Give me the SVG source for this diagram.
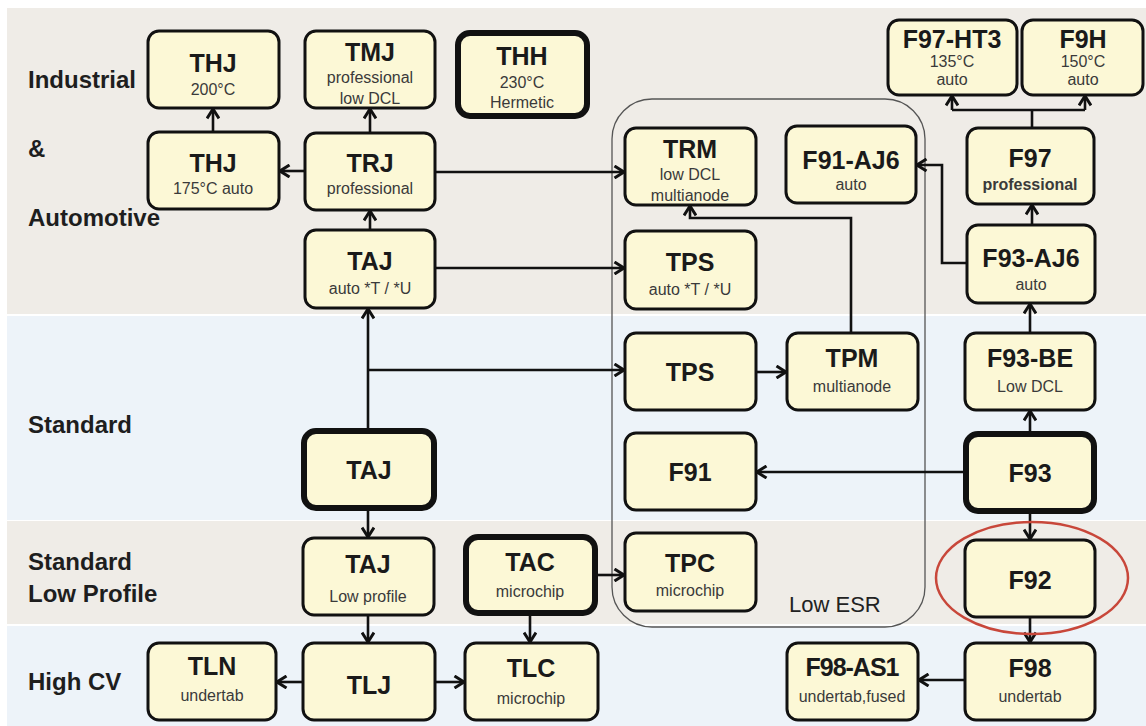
<svg xmlns="http://www.w3.org/2000/svg" width="1146" height="726" viewBox="0 0 1146 726">
<defs>
<style>
.band1{fill:#efece7}
.band2{fill:#edf3f9}
.n rect{fill:#fcf8d6;stroke:#111;stroke-width:3}
.n.thick rect{stroke-width:6}
.t{font-family:"Liberation Sans",Arial,sans-serif;font-weight:bold;font-size:25px;fill:#1a1a1a;text-anchor:middle}
.s{font-family:"Liberation Sans",Arial,sans-serif;font-size:16px;fill:#3a3a3a;text-anchor:middle}
.sb{font-weight:bold}
.lbl{font-family:"Liberation Sans",Arial,sans-serif;font-weight:bold;font-size:24px;fill:#1e1e1e}
.c path,.c line{fill:none;stroke:#111;stroke-width:2.6}
</style>
<marker id="a" viewBox="0 0 14 14" refX="12.5" refY="7" markerWidth="14" markerHeight="14" markerUnits="userSpaceOnUse" orient="auto">
<path d="M3,1 L12.5,7 L3,13" fill="none" stroke="#111" stroke-width="3"/>
</marker>
</defs>
<rect width="1146" height="726" fill="#ffffff"/>
<rect class="band1" x="7" y="8" width="1139" height="306"/>
<rect class="band2" x="7" y="316" width="1139" height="204"/>
<rect class="band1" x="7" y="521" width="1139" height="103"/>
<rect class="band2" x="7" y="626" width="1139" height="100"/>

<g id="labels">
<text class="lbl" x="28" y="88">Industrial</text>
<text class="lbl" x="28" y="157">&amp;</text>
<text class="lbl" x="28" y="226">Automotive</text>
<text class="lbl" x="28" y="433">Standard</text>
<text class="lbl" x="28" y="570">Standard</text>
<text class="lbl" x="28" y="602">Low Profile</text>
<text class="lbl" x="28" y="690">High CV</text>
</g>

<g id="lowesr">
<rect x="612" y="99" width="313" height="528" rx="40" fill="none" stroke="#555" stroke-width="1.3"/>
<text x="789" y="612" font-family="Liberation Sans, Arial, sans-serif" font-size="22" fill="#222">Low ESR</text>
</g>

<g id="connectors" class="c">
<line x1="213" y1="132" x2="213" y2="109" marker-end="url(#a)"/>
<line x1="370" y1="133" x2="370" y2="109" marker-end="url(#a)"/>
<line x1="305" y1="171" x2="280" y2="171" marker-end="url(#a)"/>
<line x1="435" y1="172" x2="624" y2="172" marker-end="url(#a)"/>
<line x1="370" y1="230" x2="370" y2="211" marker-end="url(#a)"/>
<line x1="435" y1="268" x2="624" y2="268" marker-end="url(#a)"/>
<line x1="368" y1="430" x2="368" y2="309" marker-end="url(#a)"/>
<line x1="368" y1="370" x2="624" y2="370" marker-end="url(#a)"/>
<line x1="756" y1="372" x2="786" y2="372" marker-end="url(#a)"/>
<path d="M851,333 V218 H690 V206" marker-end="url(#a)"/>
<path d="M967,263 H942 V165 H917" marker-end="url(#a)"/>
<line x1="1032" y1="225" x2="1032" y2="205" marker-end="url(#a)"/>
<path d="M1032,128 V110"/>
<path d="M952,110 H1085"/>
<line x1="952" y1="110" x2="952" y2="96" marker-end="url(#a)"/>
<line x1="1085" y1="110" x2="1085" y2="96" marker-end="url(#a)"/>
<line x1="1030" y1="333" x2="1030" y2="304" marker-end="url(#a)"/>
<line x1="1030" y1="433" x2="1030" y2="411" marker-end="url(#a)"/>
<line x1="965" y1="472" x2="757" y2="472" marker-end="url(#a)"/>
<line x1="1030" y1="512" x2="1030" y2="539" marker-end="url(#a)"/>
<line x1="1030" y1="617" x2="1030" y2="642" marker-end="url(#a)"/>
<line x1="965" y1="680" x2="919" y2="680" marker-end="url(#a)"/>
<line x1="368" y1="508" x2="368" y2="537" marker-end="url(#a)"/>
<line x1="368" y1="615" x2="368" y2="642" marker-end="url(#a)"/>
<line x1="303" y1="682" x2="277" y2="682" marker-end="url(#a)"/>
<line x1="435" y1="682" x2="464" y2="682" marker-end="url(#a)"/>
<line x1="530" y1="613" x2="530" y2="642" marker-end="url(#a)"/>
<line x1="596" y1="575" x2="624" y2="575" marker-end="url(#a)"/>
</g>

<g id="n-thj200" class="n"><rect x="148" y="31" width="131" height="77" rx="11"/><text class="t" x="213" y="72">THJ</text><text class="s" x="213" y="95">200°C</text></g>
<g id="n-tmj" class="n"><rect x="305" y="31" width="130" height="77" rx="11"/><text class="t" x="370" y="61">TMJ</text><text class="s" x="370" y="83">professional</text><text class="s" x="370" y="104">low DCL</text></g>
<g id="n-thh" class="n thick"><rect x="458" y="33" width="129" height="83" rx="12"/><text class="t" x="522" y="65">THH</text><text class="s" x="522" y="88">230°C</text><text class="s" x="522" y="108">Hermetic</text></g>
<g id="n-thj175" class="n"><rect x="148" y="132" width="131" height="77" rx="11"/><text class="t" x="213" y="172">THJ</text><text class="s" x="213" y="194">175°C auto</text></g>
<g id="n-trj" class="n"><rect x="305" y="133" width="130" height="77" rx="11"/><text class="t" x="370" y="172">TRJ</text><text class="s" x="370" y="194">professional</text></g>
<g id="n-taj-auto" class="n"><rect x="305" y="230" width="130" height="78" rx="11"/><text class="t" x="370" y="270">TAJ</text><text class="s" x="370" y="294">auto *T / *U</text></g>
<g id="n-trm" class="n"><rect x="625" y="128" width="131" height="77" rx="11"/><text class="t" x="690" y="158">TRM</text><text class="s" x="690" y="180">low DCL</text><text class="s" x="690" y="201">multianode</text></g>
<g id="n-f91aj6" class="n"><rect x="786" y="126" width="130" height="77" rx="11"/><text class="t" x="851" y="169">F91-AJ6</text><text class="s" x="851" y="190">auto</text></g>
<g id="n-tps-auto" class="n"><rect x="625" y="231" width="131" height="78" rx="11"/><text class="t" x="690" y="271">TPS</text><text class="s" x="690" y="295">auto *T / *U</text></g>
<g id="n-f97ht3" class="n"><rect x="888" y="20" width="129" height="75" rx="11"/><text class="t" x="952" y="48">F97-HT3</text><text class="s" x="952" y="67">135°C</text><text class="s" x="952" y="85">auto</text></g>
<g id="n-f9h" class="n"><rect x="1022" y="20" width="121" height="75" rx="11"/><text class="t" x="1083" y="48">F9H</text><text class="s" x="1083" y="67">150°C</text><text class="s" x="1083" y="85">auto</text></g>
<g id="n-f97" class="n"><rect x="967" y="128" width="127" height="76" rx="11"/><text class="t" x="1030" y="167">F97</text><text class="s sb" x="1030" y="190">professional</text></g>
<g id="n-f93aj6" class="n"><rect x="967" y="225" width="128" height="78" rx="11"/><text class="t" x="1031" y="267">F93-AJ6</text><text class="s" x="1031" y="290">auto</text></g>
<g id="n-tps" class="n"><rect x="625" y="333" width="131" height="77" rx="11"/><text class="t" x="690" y="381">TPS</text></g>
<g id="n-tpm" class="n"><rect x="787" y="333" width="131" height="77" rx="11"/><text class="t" x="852" y="367">TPM</text><text class="s" x="852" y="392">multianode</text></g>
<g id="n-f93be" class="n"><rect x="965" y="333" width="130" height="77" rx="11"/><text class="t" x="1030" y="367">F93-BE</text><text class="s" x="1030" y="392">Low DCL</text></g>
<g id="n-taj-std" class="n thick"><rect x="304" y="431" width="130" height="77" rx="12"/><text class="t" x="369" y="479">TAJ</text></g>
<g id="n-f91" class="n"><rect x="625" y="433" width="131" height="77" rx="11"/><text class="t" x="690" y="481">F91</text></g>
<g id="n-f93" class="n thick"><rect x="966" y="434" width="128" height="77" rx="12"/><text class="t" x="1030" y="482">F93</text></g>
<g id="n-taj-lp" class="n"><rect x="303" y="538" width="131" height="77" rx="11"/><text class="t" x="368" y="573">TAJ</text><text class="s" x="368" y="602">Low profile</text></g>
<g id="n-tac" class="n thick"><rect x="466" y="537" width="129" height="76" rx="12"/><text class="t" x="530" y="571">TAC</text><text class="s" x="530" y="597">microchip</text></g>
<g id="n-tpc" class="n"><rect x="625" y="533" width="131" height="78" rx="11"/><text class="t" x="690" y="572">TPC</text><text class="s" x="690" y="596">microchip</text></g>
<g id="n-f92" class="n"><rect x="965" y="540" width="130" height="77" rx="11"/><text class="t" x="1030" y="589">F92</text></g>
<g id="n-tln" class="n"><rect x="148" y="643" width="128" height="77" rx="11"/><text class="t" x="212" y="675">TLN</text><text class="s" x="212" y="701">undertab</text></g>
<g id="n-tlj" class="n"><rect x="303" y="643" width="132" height="77" rx="11"/><text class="t" x="369" y="694">TLJ</text></g>
<g id="n-tlc" class="n"><rect x="465" y="643" width="133" height="77" rx="11"/><text class="t" x="531" y="677">TLC</text><text class="s" x="531" y="704">microchip</text></g>
<g id="n-f98as1" class="n"><rect x="787" y="643" width="131" height="77" rx="11"/><text class="t" x="852" y="676" letter-spacing="-1">F98-AS1</text><text class="s" x="852" y="702" font-size="13">undertab,fused</text></g>
<g id="n-f98" class="n"><rect x="965" y="643" width="130" height="77" rx="11"/><text class="t" x="1030" y="677">F98</text><text class="s" x="1030" y="702">undertab</text></g>

<ellipse id="highlight" cx="1032" cy="578" rx="96" ry="56" fill="none" stroke="#c8473a" stroke-width="2.5"/>
</svg>
